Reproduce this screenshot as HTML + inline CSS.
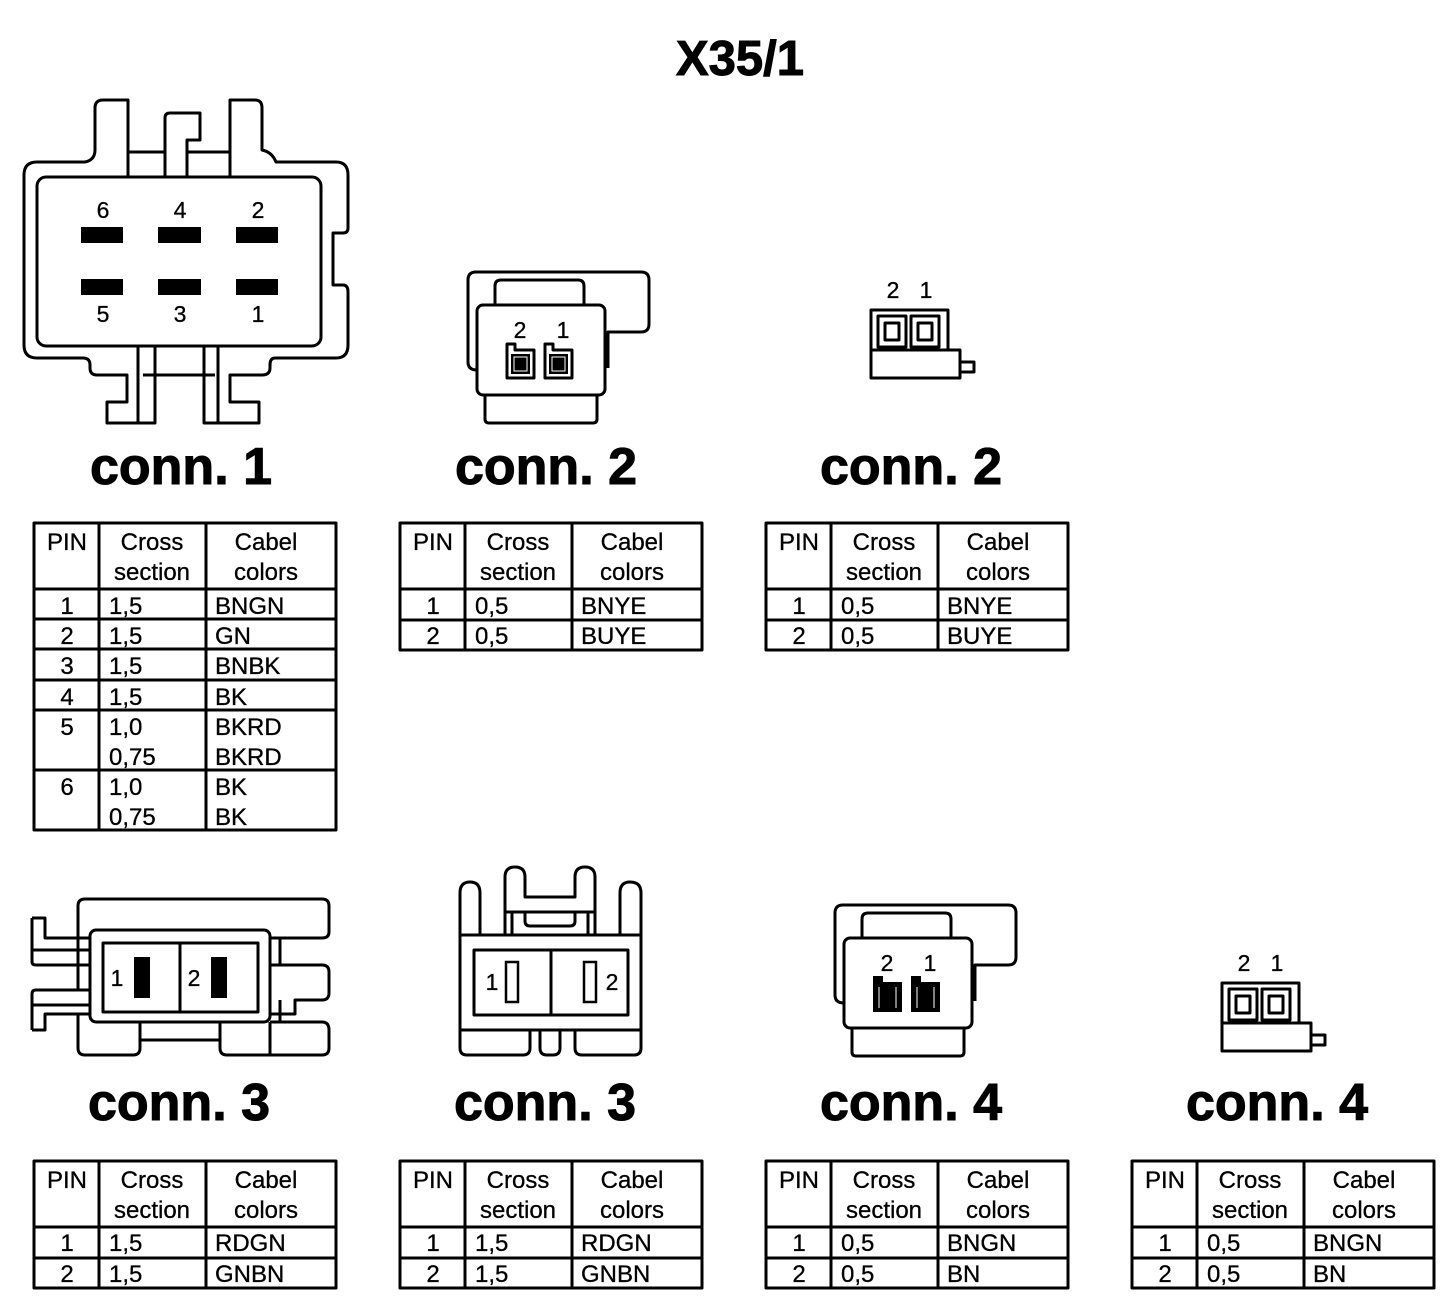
<!DOCTYPE html>
<html><head><meta charset="utf-8"><style>
html,body{margin:0;padding:0;background:#fff;}
svg{display:block;}
text{font-family:"Liberation Sans",Arial,sans-serif;fill:#000;}
.t{font-size:24px;stroke:#000;stroke-width:0.3;}
.h{font-size:52px;font-weight:bold;stroke:#000;stroke-width:1;}
.n{font-size:23px;stroke:#000;stroke-width:0.3;}
.s{fill:none;stroke:#000;stroke-width:3;stroke-linejoin:round;}
</style></head><body>
<svg width="1456" height="1314" viewBox="0 0 1456 1314" xmlns="http://www.w3.org/2000/svg">
<text x="740" y="75" text-anchor="middle" style="font-size:49px;font-weight:bold;stroke:#000;stroke-width:1">X35/1</text>

<!-- conn 1 drawing -->
<g class="s">
<path d="M37,162 L85,162 Q95,160 95,150 L95,108 Q95,100 103,100 L128,100 L128,177"/>
<path d="M128,152 L165,152"/>
<path d="M165,177 L165,118 Q165,113 170,113 L200,113 L200,140 L187,140 L187,177"/>
<path d="M187,152 L230,152"/>
<path d="M230,177 L230,100 L255,100 Q262,100 262,108 L262,150 Q272,152 276,162 L336,162 Q348,162 348,175 L348,228 Q348,233 343,233 L333,233 L333,285 L343,285 Q348,285 348,292 L348,345 Q348,358 336,358 L275,358 Q270,358 270,365 L270,368 Q270,375 262,375 L230,375 L230,402 L259,402 L259,423 L204,423 L204,346"/>
<path d="M218,346 L218,423"/>
<path d="M37,162 Q24,162 24,175 L24,345 Q24,358 37,358 L83,358 Q90,358 90,365 L90,368 Q90,375 97,375 L127,375 L127,402 L107,402 L107,423 L155,423 L155,346"/>
<path d="M138,346 L138,423"/>
<path d="M143,375 L215,375"/>
<rect x="37" y="177" width="284" height="169" rx="9"/>
</g>
<g fill="#000">
<rect x="81" y="227" width="42" height="16"/><rect x="158" y="227" width="43" height="16"/><rect x="236" y="227" width="42" height="16"/>
<rect x="81" y="279" width="42" height="16"/><rect x="158" y="279" width="43" height="16"/><rect x="236" y="279" width="42" height="16"/>
</g>
<g class="n" text-anchor="middle">
<text x="103" y="218">6</text><text x="180" y="218">4</text><text x="258" y="218">2</text>
<text x="103" y="322">5</text><text x="180" y="322">3</text><text x="258" y="322">1</text>
</g>

<!-- conn 2 big -->
<g transform="translate(468,272)">
<g class="s">
<path d="M9,98 Q0,98 0,90 L0,8 Q0,0 8,0 L173,0 Q181,0 181,8 L181,52 Q181,60 173,60 L140,60 L140,96"/>
<path d="M27,33 L27,14 Q27,8 33,8 L110,8 Q116,8 116,14 L116,33"/>
<rect x="9" y="33" width="128" height="90" rx="6"/>
<path d="M17,123 L17,147 Q17,151 21,151 L125,151 Q129,151 129,147 L129,123"/>
<path d="M39,106 L39,72 L47,72 L47,78 L66,78 L66,106 Z"/>
<path d="M77,106 L77,72 L85,72 L85,78 L104,78 L104,106 Z"/>
</g>
<rect x="43" y="82" width="19" height="20" fill="#000"/><rect x="46" y="85" width="13" height="14" fill="none" stroke="#fff" stroke-width="1"/>
<rect x="81" y="82" width="19" height="20" fill="#000"/><rect x="84" y="85" width="13" height="14" fill="none" stroke="#fff" stroke-width="1"/>
<text class="n" x="52" y="66" text-anchor="middle">2</text><text class="n" x="95" y="66" text-anchor="middle">1</text>
</g>

<!-- conn 2 small -->
<g transform="translate(868,310)">
<g class="s">
<rect x="3" y="0" width="77" height="40"/>
<rect x="10" y="6" width="28" height="31"/><rect x="17" y="13" width="14" height="17"/>
<rect x="43" y="6" width="28" height="31"/><rect x="50" y="13" width="14" height="17"/>
<rect x="3" y="40" width="89" height="28"/>
<rect x="92" y="52" width="14" height="10"/>
</g>
<text class="n" x="25" y="-12" text-anchor="middle">2</text><text class="n" x="58" y="-12" text-anchor="middle">1</text>
</g>

<!-- conn 3 left -->
<g class="s">
<path d="M78,940 L78,906 Q78,899 85,899 L322,899 Q329,899 329,906 L329,932 Q329,938 322,938 L270,938"/>
<path d="M32,918 L45,918 L45,938 L90,938 M32,918 L32,962 Q32,965 36,965 L90,965 M32,950 L90,950"/>
<path d="M32,1030 L45,1030 L45,1014 L90,1014 M32,1030 L32,994 Q32,990 36,990 L90,990 M32,1005 L90,1005"/>
<path d="M78,938 L78,990 M78,1014 L78,1048 Q78,1055 85,1055 L133,1055 Q140,1055 140,1048 L140,1022"/>
<path d="M140,1040 L220,1040"/>
<path d="M220,1022 L220,1048 Q220,1055 227,1055 L322,1055 Q329,1055 329,1048 L329,1030 Q329,1022 322,1022 L270,1022 M270,1022 L270,1055"/>
<path d="M270,965 L322,965 Q329,965 329,972 L329,993 Q329,1000 322,1000 L295,1000 L295,1014 L270,1014 M280,938 L280,965 M280,1000 L280,1022"/>
<rect x="90" y="930" width="180" height="92" rx="6"/>
<rect x="103" y="943" width="155" height="69"/>
<path d="M180,943 L180,1012"/>
</g>
<rect x="134" y="957" width="16" height="41" fill="#000"/><rect x="211" y="957" width="16" height="41" fill="#000"/>
<text class="n" x="117" y="986" text-anchor="middle">1</text><text class="n" x="194" y="986" text-anchor="middle">2</text>

<!-- conn 3 right -->
<g class="s">
<path d="M460,935 L460,893 Q460,882 470,882 Q480,882 480,893 L480,935"/>
<path d="M620,935 L620,893 Q620,882 630,882 Q641,882 641,893 L641,935"/>
<path d="M505,935 L505,877 Q505,867 515,867 Q525,867 525,877 L525,897 L575,897 L575,877 Q575,867 585,867 Q595,867 595,877 L595,935"/>
<path d="M505,912 L595,912 M512,912 L512,935 M588,912 L588,935"/>
<path d="M525,912 L525,921 Q525,926 530,926 L570,926 Q575,926 575,921 L575,912"/>
<path d="M460,935 L641,935 L641,1030 L460,1030 Z"/>
<rect x="474" y="950" width="154" height="65"/>
<path d="M551,950 L551,1015"/>
<path d="M460,1030 L460,1048 Q460,1055 467,1055 L523,1055 Q530,1055 530,1048 L530,1030"/>
<path d="M540,1030 L540,1048 Q540,1055 547,1055 L553,1055 Q560,1055 560,1048 L560,1030"/>
<path d="M575,1030 L575,1048 Q575,1055 582,1055 L634,1055 Q641,1055 641,1048 L641,1030"/>
</g>
<rect x="506" y="962" width="12" height="40" fill="none" stroke="#000" stroke-width="2.5"/>
<rect x="584" y="962" width="12" height="40" fill="none" stroke="#000" stroke-width="2.5"/>
<text class="n" x="492" y="990" text-anchor="middle">1</text><text class="n" x="612" y="990" text-anchor="middle">2</text>

<!-- conn 4 big -->
<g transform="translate(835,905)">
<g class="s">
<path d="M9,98 Q0,98 0,90 L0,8 Q0,0 8,0 L173,0 Q181,0 181,8 L181,52 Q181,60 173,60 L140,60 L140,96"/>
<path d="M27,33 L27,14 Q27,8 33,8 L110,8 Q116,8 116,14 L116,33"/>
<rect x="9" y="33" width="128" height="90" rx="6"/>
<path d="M17,123 L17,147 Q17,151 21,151 L125,151 Q129,151 129,147 L129,123"/>
</g>
<path d="M39,106 L39,72 L47,72 L47,78 L66,78 L66,106 Z" fill="#000" stroke="#000" stroke-width="2"/>
<path d="M77,106 L77,72 L85,72 L85,78 L104,78 L104,106 Z" fill="#000" stroke="#000" stroke-width="2"/>
<path d="M44,82 L44,103 M61,82 L61,103 M82,82 L82,103 M99,82 L99,103" stroke="#fff" stroke-width="1"/>
<text class="n" x="52" y="66" text-anchor="middle">2</text><text class="n" x="95" y="66" text-anchor="middle">1</text>
</g>

<!-- conn 4 small -->
<g transform="translate(1219,983)">
<g class="s">
<rect x="3" y="0" width="77" height="40"/>
<rect x="10" y="6" width="28" height="31"/><rect x="17" y="13" width="14" height="17"/>
<rect x="43" y="6" width="28" height="31"/><rect x="50" y="13" width="14" height="17"/>
<rect x="3" y="40" width="89" height="28"/>
<rect x="92" y="52" width="14" height="10"/>
</g>
<text class="n" x="25" y="-12" text-anchor="middle">2</text><text class="n" x="58" y="-12" text-anchor="middle">1</text>
</g>

<!-- titles -->
<g class="h" text-anchor="middle">
<text x="181" y="484">conn. 1</text><text x="546" y="484">conn. 2</text><text x="911" y="484">conn. 2</text>
<text x="179" y="1120">conn. 3</text><text x="545" y="1120">conn. 3</text><text x="911" y="1120">conn. 4</text><text x="1277" y="1120">conn. 4</text>
</g>

<!-- Table 1 -->
<g transform="translate(34,523)">
<g class="s">
<rect x="0" y="0" width="302" height="307"/>
<path d="M65,0 L65,307 M172,0 L172,307"/>
<path d="M0,66 L302,66 M0,96 L302,96 M0,126 L302,126 M0,157 L302,157 M0,187 L302,187 M0,247 L302,247"/>
</g>
<g class="t">
<text x="33" y="27" text-anchor="middle">PIN</text>
<text x="118" y="27" text-anchor="middle">Cross</text><text x="118" y="57" text-anchor="middle">section</text>
<text x="232" y="27" text-anchor="middle">Cabel</text><text x="232" y="57" text-anchor="middle">colors</text>
<text x="33" y="91" text-anchor="middle">1</text><text x="75" y="91">1,5</text><text x="181" y="91">BNGN</text>
<text x="33" y="121" text-anchor="middle">2</text><text x="75" y="121">1,5</text><text x="181" y="121">GN</text>
<text x="33" y="151" text-anchor="middle">3</text><text x="75" y="151">1,5</text><text x="181" y="151">BNBK</text>
<text x="33" y="182" text-anchor="middle">4</text><text x="75" y="182">1,5</text><text x="181" y="182">BK</text>
<text x="33" y="212" text-anchor="middle">5</text><text x="75" y="212">1,0</text><text x="181" y="212">BKRD</text>
<text x="75" y="242">0,75</text><text x="181" y="242">BKRD</text>
<text x="33" y="272" text-anchor="middle">6</text><text x="75" y="272">1,0</text><text x="181" y="272">BK</text>
<text x="75" y="302">0,75</text><text x="181" y="302">BK</text>
</g>
</g>

<!-- 2-row tables -->
<g transform="translate(400,523)">
<g class="s"><rect x="0" y="0" width="302" height="127"/><path d="M65,0 L65,127 M172,0 L172,127 M0,66 L302,66 M0,97 L302,97"/></g>
<g class="t">
<text x="33" y="27" text-anchor="middle">PIN</text><text x="118" y="27" text-anchor="middle">Cross</text><text x="118" y="57" text-anchor="middle">section</text>
<text x="232" y="27" text-anchor="middle">Cabel</text><text x="232" y="57" text-anchor="middle">colors</text>
<text x="33" y="91" text-anchor="middle">1</text><text x="75" y="91">0,5</text><text x="181" y="91">BNYE</text>
<text x="33" y="121" text-anchor="middle">2</text><text x="75" y="121">0,5</text><text x="181" y="121">BUYE</text>
</g></g>
<g transform="translate(766,523)">
<g class="s"><rect x="0" y="0" width="302" height="127"/><path d="M65,0 L65,127 M172,0 L172,127 M0,66 L302,66 M0,97 L302,97"/></g>
<g class="t">
<text x="33" y="27" text-anchor="middle">PIN</text><text x="118" y="27" text-anchor="middle">Cross</text><text x="118" y="57" text-anchor="middle">section</text>
<text x="232" y="27" text-anchor="middle">Cabel</text><text x="232" y="57" text-anchor="middle">colors</text>
<text x="33" y="91" text-anchor="middle">1</text><text x="75" y="91">0,5</text><text x="181" y="91">BNYE</text>
<text x="33" y="121" text-anchor="middle">2</text><text x="75" y="121">0,5</text><text x="181" y="121">BUYE</text>
</g></g>

<g transform="translate(34,1161)">
<g class="s"><rect x="0" y="0" width="302" height="127"/><path d="M65,0 L65,127 M172,0 L172,127 M0,66 L302,66 M0,97 L302,97"/></g>
<g class="t">
<text x="33" y="27" text-anchor="middle">PIN</text><text x="118" y="27" text-anchor="middle">Cross</text><text x="118" y="57" text-anchor="middle">section</text>
<text x="232" y="27" text-anchor="middle">Cabel</text><text x="232" y="57" text-anchor="middle">colors</text>
<text x="33" y="90" text-anchor="middle">1</text><text x="75" y="90">1,5</text><text x="181" y="90">RDGN</text>
<text x="33" y="121" text-anchor="middle">2</text><text x="75" y="121">1,5</text><text x="181" y="121">GNBN</text>
</g></g>
<g transform="translate(400,1161)">
<g class="s"><rect x="0" y="0" width="302" height="127"/><path d="M65,0 L65,127 M172,0 L172,127 M0,66 L302,66 M0,97 L302,97"/></g>
<g class="t">
<text x="33" y="27" text-anchor="middle">PIN</text><text x="118" y="27" text-anchor="middle">Cross</text><text x="118" y="57" text-anchor="middle">section</text>
<text x="232" y="27" text-anchor="middle">Cabel</text><text x="232" y="57" text-anchor="middle">colors</text>
<text x="33" y="90" text-anchor="middle">1</text><text x="75" y="90">1,5</text><text x="181" y="90">RDGN</text>
<text x="33" y="121" text-anchor="middle">2</text><text x="75" y="121">1,5</text><text x="181" y="121">GNBN</text>
</g></g>
<g transform="translate(766,1161)">
<g class="s"><rect x="0" y="0" width="302" height="127"/><path d="M65,0 L65,127 M172,0 L172,127 M0,66 L302,66 M0,97 L302,97"/></g>
<g class="t">
<text x="33" y="27" text-anchor="middle">PIN</text><text x="118" y="27" text-anchor="middle">Cross</text><text x="118" y="57" text-anchor="middle">section</text>
<text x="232" y="27" text-anchor="middle">Cabel</text><text x="232" y="57" text-anchor="middle">colors</text>
<text x="33" y="90" text-anchor="middle">1</text><text x="75" y="90">0,5</text><text x="181" y="90">BNGN</text>
<text x="33" y="121" text-anchor="middle">2</text><text x="75" y="121">0,5</text><text x="181" y="121">BN</text>
</g></g>
<g transform="translate(1132,1161)">
<g class="s"><rect x="0" y="0" width="302" height="127"/><path d="M65,0 L65,127 M172,0 L172,127 M0,66 L302,66 M0,97 L302,97"/></g>
<g class="t">
<text x="33" y="27" text-anchor="middle">PIN</text><text x="118" y="27" text-anchor="middle">Cross</text><text x="118" y="57" text-anchor="middle">section</text>
<text x="232" y="27" text-anchor="middle">Cabel</text><text x="232" y="57" text-anchor="middle">colors</text>
<text x="33" y="90" text-anchor="middle">1</text><text x="75" y="90">0,5</text><text x="181" y="90">BNGN</text>
<text x="33" y="121" text-anchor="middle">2</text><text x="75" y="121">0,5</text><text x="181" y="121">BN</text>
</g></g>
</svg>
</body></html>
